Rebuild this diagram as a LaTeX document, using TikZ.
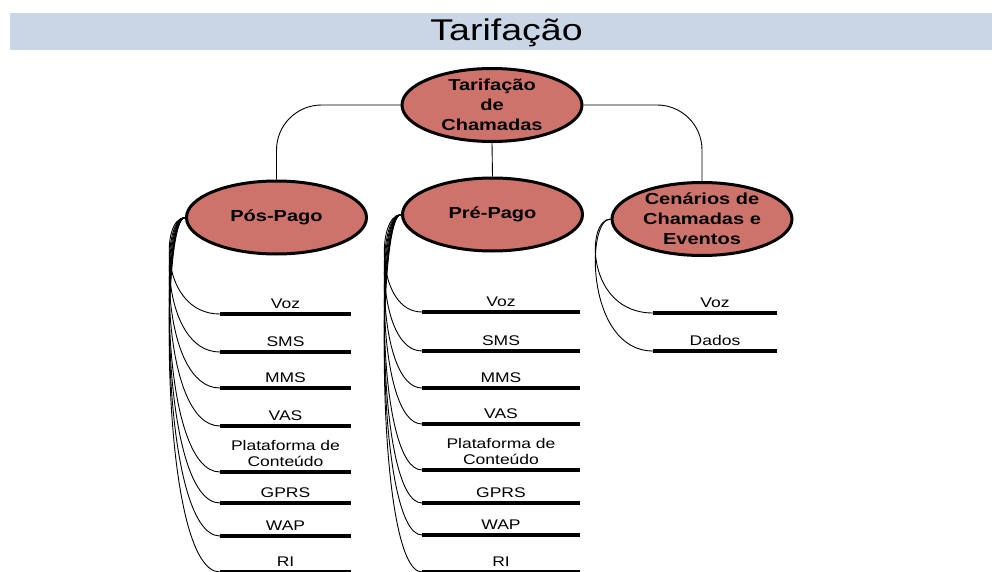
\documentclass[tikz,border=0pt]{standalone}
\usepackage{fontspec}
\setmainfont{Liberation Sans}[FakeStretch=1.25]
\usetikzlibrary{shapes.geometric}
\definecolor{bandblue}{RGB}{201,214,229}
\definecolor{ellfill}{RGB}{206,115,108}
\begin{document}
\begin{tikzpicture}[x=1pt,y=-1pt,
  topic/.style={draw=black, line width=3pt, fill=ellfill, ellipse,
    minimum width=180pt, minimum height=73pt, inner sep=0pt},
  toptext/.style={font=\fontsize{16}{20}\selectfont\bfseries, align=center, inner sep=0pt},
  conn/.style={line width=0.9pt},
  leafline/.style={line width=3.5pt},
  leaftext/.style={font=\fontsize{14}{16}\selectfont, align=center, inner sep=0pt, anchor=south}]
\useasboundingbox (0,0) rectangle (992,572);
% title band
\node[fill=bandblue, minimum width=982pt, minimum height=37pt, inner sep=0pt] (band) at (501,31.5) {};
\node[font=\fontsize{30}{36}\selectfont, anchor=base, inner sep=0pt] (title) at (506.5,41) {Tarifação};
% topic ellipses
\node[topic] (root) at (492,105) {};
\node[toptext] (roott) at (root) {Tarifação\\de\\Chamadas};
\node[topic] (pos) at (276.5,217.5) {};
\node[toptext] (post) at (pos) {Pós-Pago};
\node[topic] (pre) at (492.5,214.5) {};
\node[toptext] (pret) at (pre) {Pré-Pago};
\node[topic] (cen) at (702,219) {};
\node[toptext] (cent) at (cen) {Cenários de\\Chamadas e\\Eventos};
% connectors from root
\draw[conn, rounded corners=45pt] (root.west) -| (pos.north);
\draw[conn, rounded corners=45pt] (root.east) -| (cen.north);
\draw[conn] (root.south) -- (pre.north);
% Pos-Pago leaves
\foreach \y/\t [count=\i] in {314/Voz, 352/SMS, 388/MMS, 426/VAS, 472/{Plataforma de\\Conteúdo}, 503/GPRS, 536/WAP, 572/RI} {
  \coordinate (posa\i) at (220,\y);
  \coordinate (posb\i) at (351,\y);
  \draw[leafline] (posa\i) -- (posb\i);
  \node[leaftext] (posl\i) at (285.5,\y-5.5) {\t};
  \draw[conn] (pos.west) .. controls +(-25,0) and +(-60,0) .. (posa\i);
}
% Pre-Pago leaves
\foreach \y/\t [count=\i] in {312/Voz, 351/SMS, 388/MMS, 424/VAS, 470/{Plataforma de\\Conteúdo}, 503/GPRS, 535/WAP, 572/RI} {
  \coordinate (prea\i) at (422,\y);
  \coordinate (preb\i) at (580,\y);
  \draw[leafline] (prea\i) -- (preb\i);
  \node[leaftext] (prel\i) at (501,\y-5.5) {\t};
  \draw[conn] (pre.west) .. controls +(-25,0) and +(-46,0) .. (prea\i);
}
% Cenarios leaves
\foreach \y/\t [count=\i] in {313/Voz, 351/Dados} {
  \coordinate (cena\i) at (653,\y);
  \coordinate (cenb\i) at (777,\y);
  \draw[leafline] (cena\i) -- (cenb\i);
  \node[leaftext] (cenl\i) at (715,\y-5.5) {\t};
  \draw[conn] (cen.west) .. controls +(-25,0) and +(-67,0) .. (cena\i);
}
\end{tikzpicture}
\end{document}
